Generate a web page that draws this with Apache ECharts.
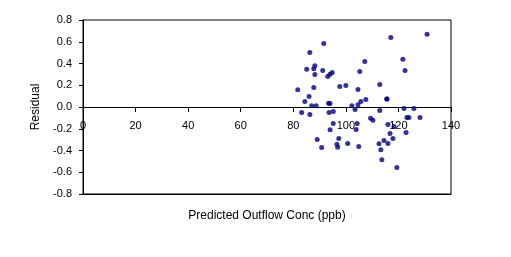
<!DOCTYPE html>
<html>
<head>
<meta charset="utf-8">
<script src="https://cdn.jsdelivr.net/npm/echarts@6/dist/echarts.min.js"></script>
<style>
html,body{margin:0;padding:0;background:#fff;}
#c{width:511px;height:257px;}
</style>
</head>
<body>
<div id="c"></div>
<script>
// Predicted outflow concentration (ppb)
var predicted = [81.7,83.2,84.4,85.1,86.0,86.3,86.3,87.0,87.8,87.8,88.2,88.2,88.7,89.1,90.8,91.2,91.6,93.1,93.4,93.6,94.0,94.0,94.0,94.8,95.2,95.2,96.6,96.9,97.3,97.7,100.0,100.7,102.3,103.5,103.9,104.3,104.6,104.6,104.9,105.3,105.7,107.2,107.6,109.4,110.3,112.6,112.9,112.9,113.3,113.7,114.5,115.6,115.6,116.0,116.0,116.8,117.1,117.9,118.3,119.4,121.7,122.1,122.5,122.9,123.2,124.0,125.9,128.2,130.9];
// Residuals
var residual = [0.158,-0.051,0.051,0.346,0.097,0.502,-0.069,0.011,0.180,0.352,0.379,0.299,0.011,-0.299,-0.373,0.336,0.584,0.281,0.035,-0.051,0.302,-0.210,0.032,0.318,-0.041,-0.152,-0.342,-0.370,-0.290,0.189,0.198,-0.336,0.011,-0.023,-0.207,-0.152,0.161,0.020,-0.364,0.327,0.051,0.419,0.069,-0.103,-0.122,-0.339,0.207,-0.032,-0.392,-0.484,-0.309,0.072,0.077,-0.336,-0.161,-0.244,0.640,-0.290,-0.180,-0.557,0.440,-0.014,0.336,-0.235,-0.097,-0.097,-0.014,-0.097,0.668];
var xTicks = [0,20,40,60,80,100,120,140];
var yTicks = [-0.8,-0.6,-0.4,-0.2,0.0,0.2,0.4,0.6,0.8];

var pts = predicted.map(function(x,i){return [x,residual[i]];});
var font = 'Liberation Sans, Arial, sans-serif';
var chart = echarts.init(document.getElementById('c'));
chart.setOption({
  backgroundColor:'#fff',
  animation:false,
  grid:{left:83,right:60,top:20,bottom:63,containLabel:false,outerBoundsMode:'none',
    show:true,borderColor:'#000',borderWidth:1,backgroundColor:'transparent'},
  xAxis:[{
    type:'value',min:xTicks[0],max:xTicks[xTicks.length-1],interval:20,
    position:'bottom',offset:-87,
    axisLine:{onZero:false,lineStyle:{color:'#000',width:1}},
    axisTick:{show:true,length:5,inside:false,lineStyle:{color:'#000'}},
    axisLabel:{color:'#000',fontSize:11,fontFamily:font,margin:13},
    splitLine:{show:false},
    name:'Predicted Outflow Conc (ppb)',nameLocation:'middle',nameGap:103,
    nameTextStyle:{color:'#000',fontSize:12,fontFamily:font}
  },{
    type:'value',min:xTicks[0],max:xTicks[xTicks.length-1],interval:20,
    position:'bottom',offset:0,
    axisLine:{show:true,onZero:false,lineStyle:{color:'#000',width:1}},
    axisTick:{show:false},axisLabel:{show:false},splitLine:{show:false}
  }],
  yAxis:{
    type:'value',min:yTicks[0],max:yTicks[yTicks.length-1],interval:0.2,
    axisLine:{show:true,onZero:false,lineStyle:{color:'#000',width:1}},
    axisTick:{show:true,length:4,lineStyle:{color:'#000'}},
    axisLabel:{color:'#000',fontSize:11,fontFamily:font,margin:11,
      formatter:function(v){return (Math.abs(v)<1e-9?0:v).toFixed(1);}},
    splitLine:{show:false},
    name:'Residual',nameLocation:'middle',nameGap:37,nameRotate:90,
    nameTextStyle:{color:'#000',fontSize:12,fontFamily:font}
  },
  series:[{
    type:'scatter',data:pts,symbol:'circle',symbolSize:5,
    itemStyle:{color:'#000080'}
  }]
});
</script>
</body>
</html>
